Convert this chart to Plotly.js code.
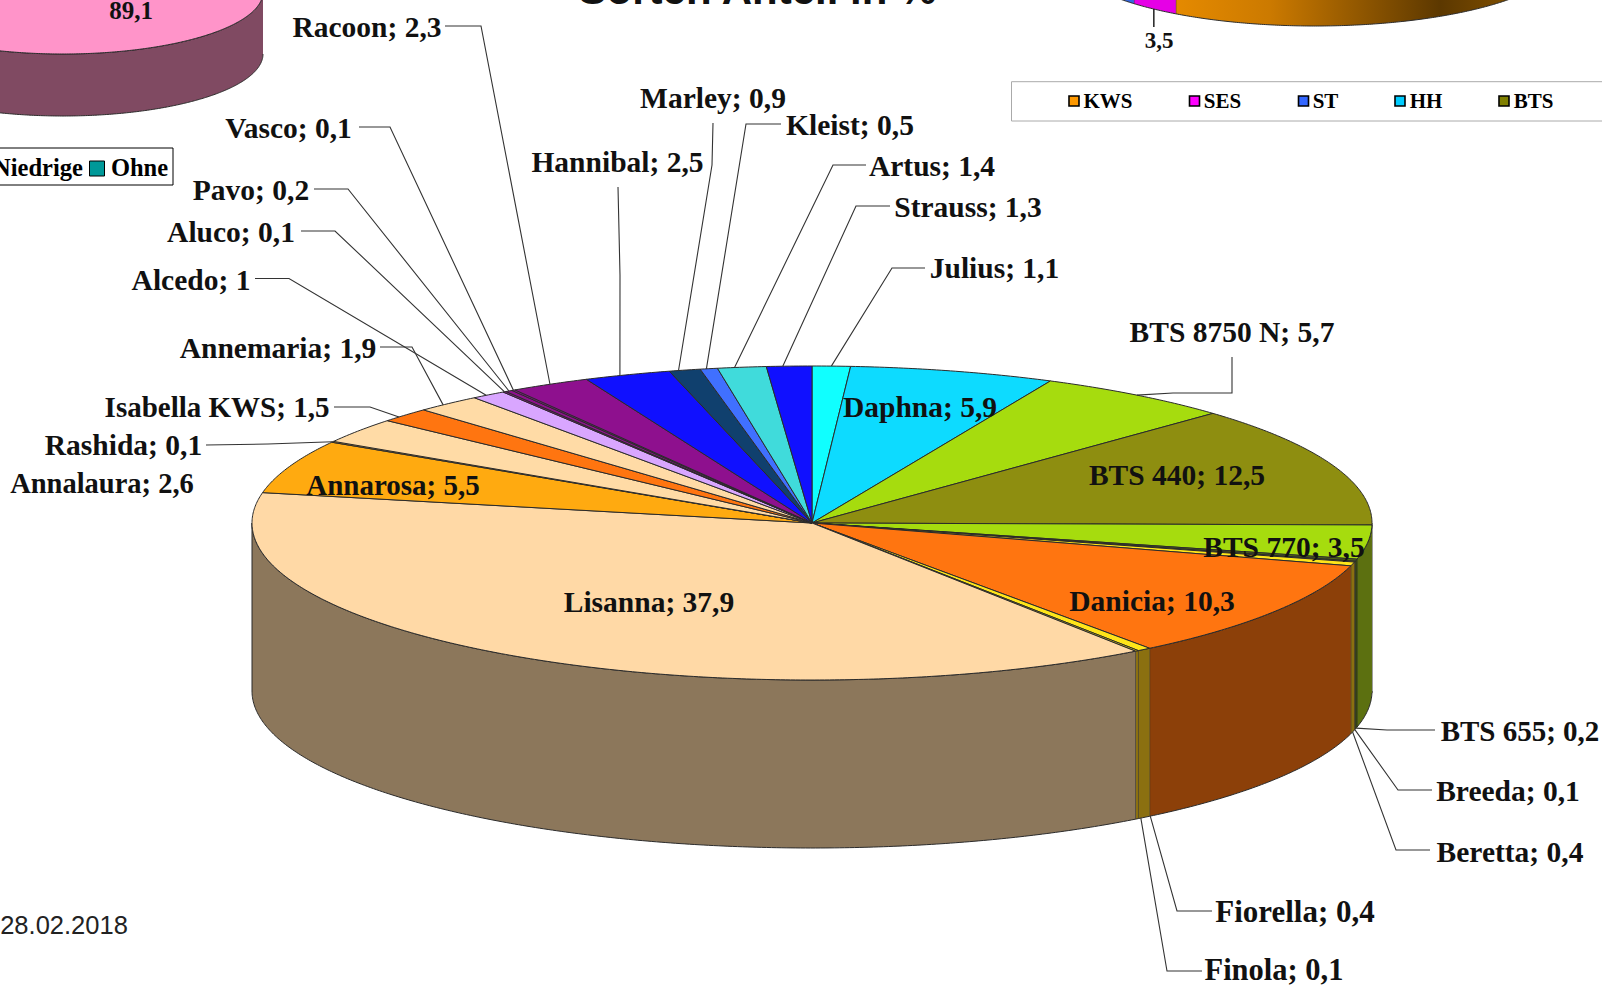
<!DOCTYPE html>
<html>
<head>
<meta charset="utf-8">
<script src="https://cdn.plot.ly/plotly-3.0.1.min.js"></script>
<style>html,body{margin:0;padding:0;background:#fff;overflow:hidden}#chart{width:1602px;height:985px}</style>
</head>
<body>
<div id="chart"></div>
<script>
// ---------- data ----------
const varieties = ['Julius','Daphna','BTS 8750 N','BTS 440','BTS 770','BTS 655','Breeda','Beretta','Danicia','Fiorella','Finola','Lisanna','Annarosa','Rashida','Annalaura','Isabella KWS','Annemaria','Alcedo','Aluco','Pavo','Vasco','Racoon','Hannibal','Marley','Kleist','Artus','Strauss'];
const shares = [1.1,5.9,5.7,12.5,3.5,0.2,0.1,0.4,10.3,0.4,0.1,37.9,5.5,0.1,2.6,1.5,1.9,1,0.1,0.2,0.1,2.3,2.5,0.9,0.5,1.4,1.3];
const sliceColours = ['#10FFFF','#0DDBFF','#A6DC0E','#8E8E10','#A6DC0E','#57700F','#57700F','#FFE51A','#FF7510','#FFE51A','#E8D010','#FFD9A6','#FFAA10','#FFAA10','#FFDBA6','#FF7510','#FFDBA6','#D9A6FF','#8E108E','#8E108E','#8E108E','#8E108E','#1010FF','#10406E','#4070FF','#40DBDB','#1010FF'];
const companyLegend = ['KWS','SES','ST','HH','BTS'];
const companyColours = ['#FF9900','#FF00FF','#3366FF','#00CCFF','#808000'];
const companyShares = [59.4,3.5,4];
const intensityShares = [89.1,10.9];
const intensityLegend = ['Niedrige','Ohne'];
const titleText = 'Sorten Anteil in %';
const dateText = '28.02.2018';

// ---------- layout constants (pixels of the page) ----------
const W = 1602, H = 985;
const PIE = {cx:812, cy:523, rx:560, ry:157, depth:168};
const PIE_L = {cx:63, cy:-8, rx:200, ry:62, depth:62};
const PIE_R = {cx:1315, cy:-46, rx:250, ry:72, depth:-70};
const labelPlace = {
 'Julius':[994.5,268],'Daphna':[920,407],'BTS 8750 N':[1232,332],'BTS 440':[1177,475],'BTS 770':[1284,547],
 'BTS 655':[1520,731],'Breeda':[1508,791],'Beretta':[1510,852],'Danicia':[1152,601],'Fiorella':[1295,912],
 'Finola':[1274,970],'Lisanna':[649,602],'Annarosa':[393,485],'Rashida':[123.5,445],'Annalaura':[102,483],
 'Isabella KWS':[217,407],'Annemaria':[278,348],'Alcedo':[191,280],'Aluco':[231,232],'Pavo':[251,190],
 'Vasco':[288.5,128],'Racoon':[367,27],'Hannibal':[617.5,162],'Marley':[713,98],'Kleist':[850,125],
 'Artus':[932,166],'Strauss':[968,207]};
const leaderPaths = {
 'Racoon':[[445,26],[481,26]],'Vasco':[[359,127],[390,127]],'Pavo':[[314,189],[348,189]],'Aluco':[[301,231],[335,231]],
 'Alcedo':[[255,278.5],[289,278.5]],'Annemaria':[[380,347],[412,347]],'Isabella KWS':[[334,407],[370,407]],
 'Rashida':[[206,445],[268,444]],'Hannibal':[[618,187],[620,275]],'Marley':[[713,123],[712,165]],
 'Kleist':[[781,124],[746,124]],'Artus':[[866,165],[833,165]],'Strauss':[[890,206],[856,206]],'Julius':[[925,268],[892,268]],
 'BTS 8750 N':[[1232,357],[1232,393],[1173,393]],'BTS 655':[[1435,730],[1387,730]],'Breeda':[[1432,790],[1398,790]],
 'Beretta':[[1430,850],[1396,850]],'Fiorella':[[1212,911],[1177,911]],'Finola':[[1202,971],[1167,971]]};
const leaderAngleNudge = {'Hannibal':-0.8,'Marley':-0.65,'Kleist':-0.25,'Artus':-0.75,'Strauss':-0.65,'Fiorella':-0.8,'Finola':-0.5,'Annemaria':-0.7,'Isabella KWS':-0.9,'Alcedo':-0.3};
const wallOverride = {'BTS 770':'#5C7010','Beretta':'#8B7010','Fiorella':'#8B7010','Finola':'#8B7010'};
const labelSizeOverride = {'Annalaura':28.5,'Fiorella':31,'Finola':30.5,'Annarosa':29,'Isabella KWS':29,'BTS 655':29};
const EDGE = '#2b2b2b', SERIF = '"Liberation Serif", serif', SANS = '"Liberation Sans", Arial, sans-serif';
const LABEL_SIZE = 29.5, TEXT_DY = 2.5;

// ---------- helpers ----------
const rad = d => d*Math.PI/180;
const px = (p,d) => p.cx + p.rx*Math.sin(rad(d));
const py = (p,d,drop=0) => p.cy - p.ry*Math.cos(rad(d)) + drop;
function arcSteps(a,b){const n=Math.max(2,Math.ceil(Math.abs(b-a)/0.5));const o=[];for(let i=0;i<=n;i++)o.push(a+(b-a)*i/n);return o;}
function poly(xs,ys,fill,extra){return Object.assign({type:'scatter',mode:'lines',x:xs,y:ys,fill:'toself',fillcolor:fill,
  line:{color:EDGE,width:1,simplify:false},hoverinfo:'skip',showlegend:false},extra||{});}
function shade(hex,f){const n=parseInt(hex.slice(1),16);const c=[n>>16,(n>>8)&255,n&255].map(v=>Math.round(v*f));return `rgb(${c[0]},${c[1]},${c[2]})`;}
function topFace(p,a,b,col){const t=arcSteps(a,b);return poly([p.cx,...t.map(d=>px(p,d)),p.cx],[p.cy,...t.map(d=>py(p,d)),p.cy],col);}
function wallFace(p,a,b,col,extra){const lo=Math.max(a,90),hi=Math.min(b,270);if(hi<=lo)return null;const t=arcSteps(lo,hi);const r=[...t].reverse();
  return poly([...t.map(d=>px(p,d)),...r.map(d=>px(p,d))],[...t.map(d=>py(p,d)),...r.map(d=>py(p,d,p.depth))],col,extra);}
function textTrace(xs,ys,strs,size,family,colour,bold){return {type:'scatter',mode:'text',x:xs,y:ys.map(v=>v+TEXT_DY),text:strs.map(s=>bold?`<b>${s}</b>`:s),
  textposition:'middle center',textfont:{size:size,family:family,color:colour},hoverinfo:'skip',showlegend:false,cliponaxis:true};}

const traces = [];
const edges = []; let runningTotal = 0;
shares.forEach(v=>{edges.push(runningTotal);runningTotal+=v;}); edges.push(runningTotal);
const angleAt = i => edges[i]/runningTotal*360;

// small pie, top left
const lStart = intensityShares[1]/100*180;
const lEnd = lStart + intensityShares[0]/100*360;
traces.push(wallFace(PIE_L,lStart,lEnd,'#804A62'));
traces.push(topFace(PIE_L,lStart,lEnd,'#FF94C9'));

// company pie, top right (only its lower rim enters the page)
const rEdges=[0]; companyShares.forEach(v=>rEdges.push(rEdges[rEdges.length-1]+v));
const rDeg=i=>rEdges[i]/100*360;
traces.push(wallFace(PIE_R,rDeg(0),rDeg(1),'#E58A00',{fillgradient:{type:'horizontal',colorscale:[[0,'#E58A00'],[0.24,'#CC7A00'],[0.68,'#5C3800'],[1,'#9A6000']]}}));
traces.push(wallFace(PIE_R,rDeg(1),rDeg(2),'#E600E6'));
traces.push(wallFace(PIE_R,rDeg(2),rDeg(3),'#3366E0'));

// main pie walls, then top faces
shares.forEach((v,i)=>{const w=wallFace(PIE,angleAt(i),angleAt(i+1),wallOverride[varieties[i]]||shade(sliceColours[i],0.55));if(w)traces.push(w);});
shares.forEach((v,i)=>traces.push(topFace(PIE,angleAt(i),angleAt(i+1),sliceColours[i])));

// leader lines: label side from the layout table, pie side from the values
varieties.forEach((n,i)=>{
  const path=leaderPaths[n]; if(!path) return;
  const mid=(angleAt(i)+angleAt(i+1))/2+(leaderAngleNudge[n]||0), front=mid>90&&mid<270;
  const xs=[...path.map(q=>q[0]),px(PIE,mid)], ys=[...path.map(q=>q[1]),py(PIE,mid,front?PIE.depth:0)];
  traces.push({type:'scatter',mode:'lines',x:xs,y:ys,line:{color:'#333',width:1.1},hoverinfo:'skip',showlegend:false});
});
// company pie leader
const sesMid=(rDeg(1)+rDeg(2))/2;
traces.push({type:'scatter',mode:'lines',x:[px(PIE_R,sesMid),px(PIE_R,sesMid)],y:[py(PIE_R,sesMid),27],line:{color:'#111',width:1.4},hoverinfo:'skip',showlegend:false});

// labels
const fmt=v=>String(v).replace('.',',');
traces.push(textTrace(varieties.map(n=>labelPlace[n][0]),varieties.map(n=>labelPlace[n][1]),
  varieties.map((n,i)=>`${n}; ${fmt(shares[i])}`),varieties.map(n=>labelSizeOverride[n]||LABEL_SIZE),SERIF,'#111',true));
traces.push(textTrace([131],[10],[fmt(intensityShares[0])],25,SERIF,'#111',true));
traces.push(textTrace([1159],[39.5],[fmt(companyShares[1])],23,SERIF,'#111',true));

// legend text & swatches
traces.push(textTrace([1108,1222.5,1325.5,1426,1533.5],[100.5,100.5,100.5,100.5,100.5],companyLegend,21,SERIF,'#000',true));
traces.push({type:'scatter',mode:'markers',x:[1074,1194.5,1303.5,1400,1504],y:[101,101,101,101,101],
  marker:{symbol:'square',size:10,color:companyColours,line:{color:'#000',width:1.6}},hoverinfo:'skip',showlegend:false});
traces.push(textTrace([38,139.5],[167.5,167.5],intensityLegend,24.5,SERIF,'#000',true));
traces.push({type:'scatter',mode:'markers',x:[97],y:[168.5],marker:{symbol:'square',size:15,color:'#009999',line:{color:'#000',width:1}},hoverinfo:'skip',showlegend:false});
traces.push(textTrace([64],[925.5],[dateText],25.5,SANS,'#222',false));

const axis={visible:false,showgrid:false,zeroline:false,fixedrange:true};
const layout={
  width:W,height:H,margin:{l:0,r:0,t:0,b:0,pad:0},paper_bgcolor:'#fff',plot_bgcolor:'#fff',showlegend:false,
  xaxis:Object.assign({range:[0,W]},axis),yaxis:Object.assign({range:[H,0]},axis),
  title:{text:`<b>${titleText}</b>`,font:{family:SANS,size:42,color:'#111'},x:757.5/W,xanchor:'center',y:0.9955,yanchor:'bottom',pad:{t:0,b:0,l:0,r:0}},
  shapes:[
    {type:'rect',xref:'x',yref:'y',x0:-5,x1:173,y0:148,y1:185,line:{color:'#000',width:1},fillcolor:'rgba(0,0,0,0)',layer:'below'},
    {type:'rect',xref:'x',yref:'y',x0:1011.5,x1:1620,y0:81.7,y1:121,line:{color:'#aaa',width:1},fillcolor:'rgba(0,0,0,0)',layer:'below'}
  ]
};
Plotly.newPlot('chart',traces.filter(Boolean),layout,{displayModeBar:false,staticPlot:true,responsive:false});
</script>
</body>
</html>
